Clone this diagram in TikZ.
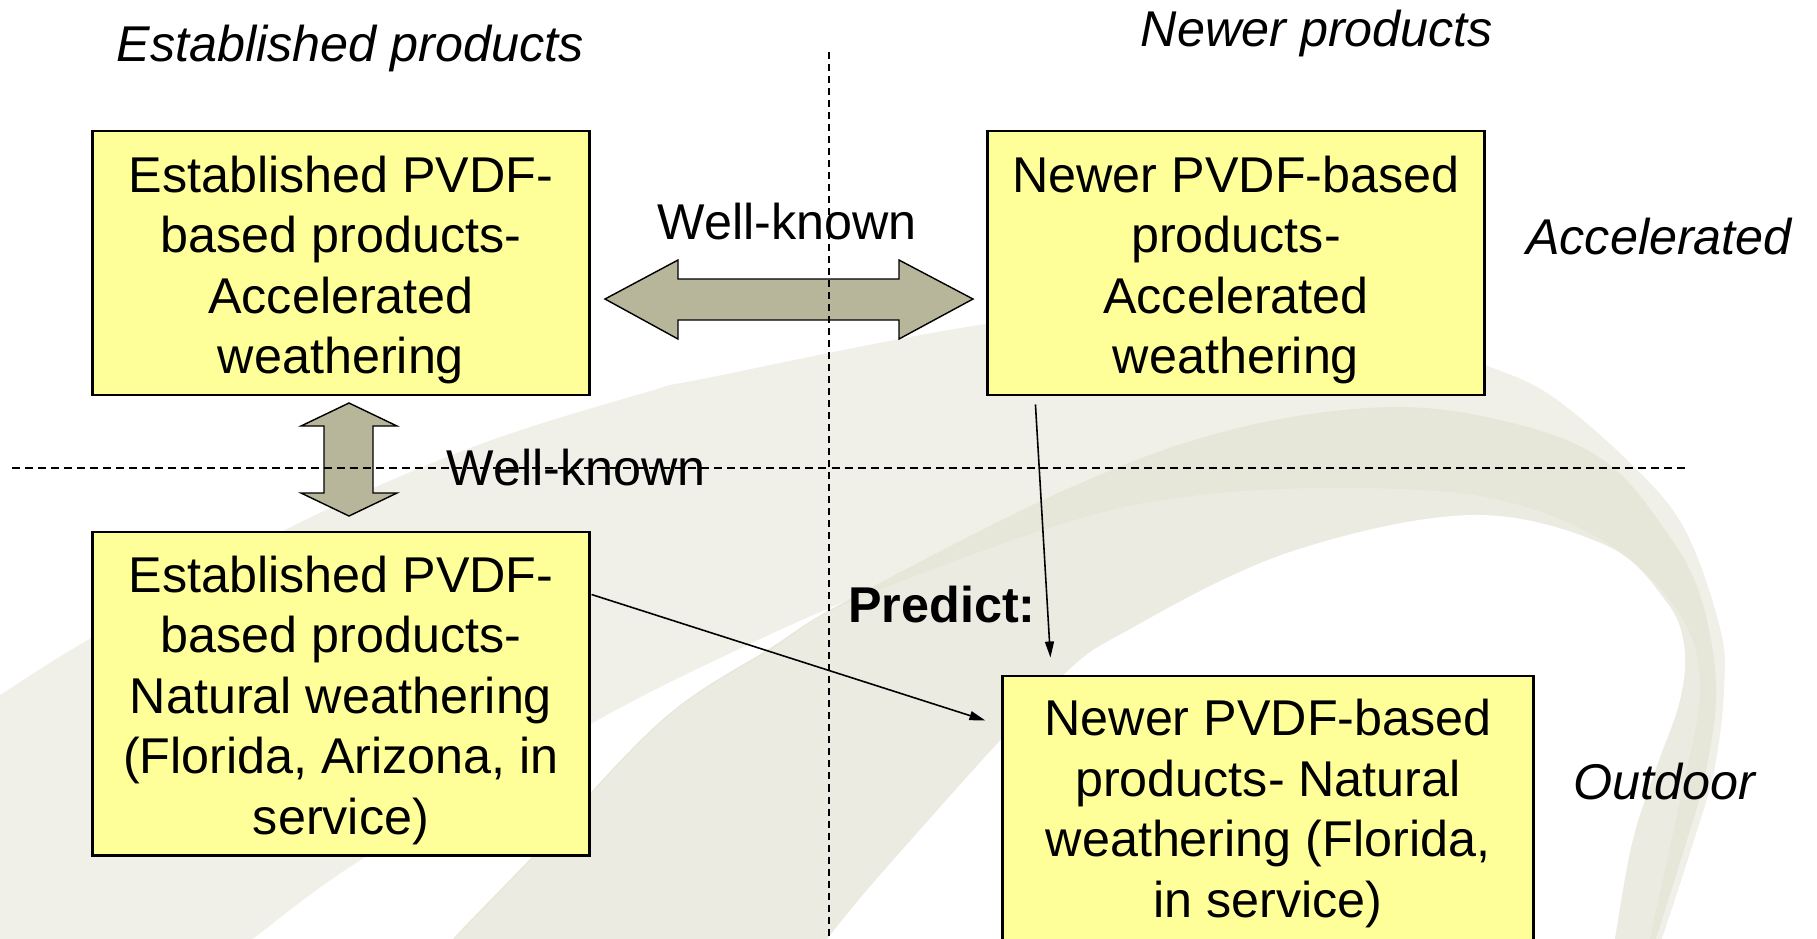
\documentclass[tikz,border=0pt]{standalone}
\usepackage{fontspec}
\setmainfont{Liberation Sans}
\usetikzlibrary{arrows.meta}
\definecolor{boxfill}{HTML}{FFFF99}
\definecolor{arrowfill}{HTML}{B8B69A}
\definecolor{swpale}{HTML}{F0F0E8}
\definecolor{swdark}{HTML}{E6E6D9}
\definecolor{swmid}{HTML}{EBEBE1}
\newcommand{\toppad}{\rule{0pt}{0.50cm}}
\begin{document}
\begin{tikzpicture}[x=0.01cm,y=-0.01cm,
  txt/.style={font=\fontsize{14.3pt}{17.2pt}\selectfont, inner sep=0pt},
  lbl/.style={font=\fontsize{14.3pt}{17.2pt}\selectfont\itshape, inner sep=0pt, anchor=base},
  boxnode/.style={txt, draw=black, line width=0.8pt, fill=boxfill, align=center, minimum width=4.96cm},
  bigarrow/.style={fill=arrowfill, draw=black, line width=0.4pt, line join=miter},
  guide/.style={black, line width=0.55pt, dash pattern=on 0.08cm off 0.05cm},
  thinarrow/.style={black, line width=0.45pt, -{Triangle[length=0.16cm,width=0.09cm]}}]
\useasboundingbox (0,0) rectangle (1817,938);
\clip (0,0) rectangle (1817,938);
\fill[white] (0,0) rectangle (1817,938);
% background swoosh
\fill[swpale] plot[smooth, tension=0.6] coordinates {(-20,708) (0,695) (93,637) (285,530) (470,448) (647,392) (707,378) (1000,322) (1200,312) (1400,335) (1485,365) (1550,395) (1629,462) (1684,528) (1720,628) (1724,690) (1714,771) (1693,843) (1662,938) (1652,960)} -- (-20,960) -- cycle;
\fill[white] plot[smooth, tension=0.6] coordinates {(225,960) (254,938) (364,858) (598,720) (752,643) (848,600)} -- (880,612) -- (800,960) -- cycle;
\fill[swdark] plot[smooth, tension=0.6] coordinates {(440,960) (454,938) (531,858) (662,720) (772,647) (848,600) (1065,490) (1230,430) (1392,407) (1520,425) (1606,462) (1665,530) (1700,595) (1716,685) (1706,771) (1686,843) (1656,938) (1648,960)} -- cycle;
\fill[swmid] plot[smooth, tension=0.6] coordinates {(443,960) (456,938) (533,858) (664,720) (774,648) (850,602) (1065,523) (1200,495) (1361,488) (1500,500) (1610,545) (1680,615) (1700,690) (1680,800) (1650,938) (1645,960)} -- cycle;
\fill[white] plot[smooth, tension=0.6] coordinates {(815,960) (828,938) (895,858) (1053,685) (1132,628) (1290,552) (1471,515) (1605,545) (1665,600) (1684,645) (1680,700) (1655,771) (1632,843) (1615,938) (1612,960)} -- cycle;
% big double arrows
\draw[bigarrow] (605,299) -- (678,260) -- (678,279) -- (899,279) -- (899,260) -- (973,299) -- (899,339) -- (899,320) -- (678,320) -- (678,339) -- cycle;
\draw[bigarrow] (349,403) -- (397,426) -- (373,426) -- (373,493) -- (397,493) -- (349,516) -- (301,493) -- (324,493) -- (324,426) -- (301,426) -- cycle;
% guide lines
\coordinate (vtop) at (828.6,52);
\coordinate (vbot) at (828.6,945);
\coordinate (hl) at (12,468);
\coordinate (hr) at (1686,468);
\draw[guide, dash pattern=on 0.07cm off 0.05cm] (vtop) -- (vbot);
\draw[guide] (hl) -- (hr);
% boxes
\node[boxnode, minimum height=2.64cm] (A) at (341,263) {\toppad Established PVDF-\\based products-\\Accelerated\\weathering};
\node[boxnode, minimum height=2.64cm] (B) at (1236,263) {\toppad Newer PVDF-based\\products-\\Accelerated\\weathering};
\node[boxnode, minimum height=3.23cm] (C) at (341,693.5) {\toppad Established PVDF-\\based products-\\Natural weathering\\(Florida, Arizona, in\\service)};
\node[boxnode, minimum width=5.30cm, minimum height=2.75cm] (D) at (1268,813.5) {Newer PVDF-based\\products- Natural\\weathering (Florida,\\in service)};
% thin arrows
\draw[thinarrow] ([shift={(49,8)}]B.south west) -- ([shift={(49,-17)}]D.north west);
\draw[thinarrow] ([shift={(1,64)}]C.north east) -- ([shift={(-16,46)}]D.north west);
% labels
\node[lbl] (estab) at (350,61) {Established products};
\node[lbl] (newer) at (1317,46) {Newer products};
\node[lbl] (accel) at (1659,254) {Accelerated};
\node[lbl] (outdoor) at (1664,799) {Outdoor};
\node[txt, anchor=base] (wk1) at (787,239) {Well-known};
\node[txt, anchor=base] (wk2) at (576,485) {Well-known};
\node[txt, anchor=base, font=\fontsize{14.3pt}{17.2pt}\selectfont\bfseries] (pred) at (942,622) {Predict:};
\end{tikzpicture}
\end{document}
